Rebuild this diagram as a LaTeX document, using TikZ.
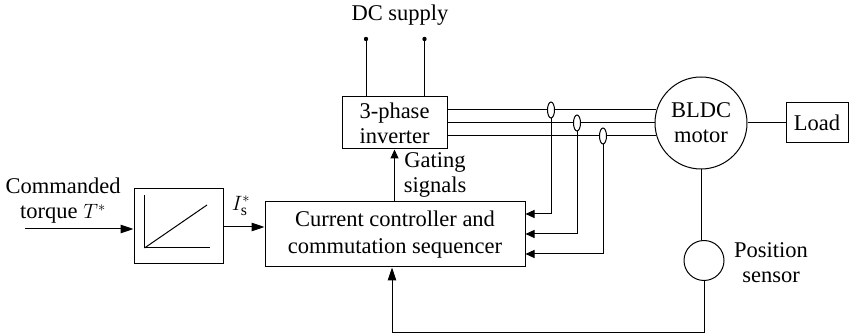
\documentclass[tikz,border=0pt]{standalone}
\usepackage{fontspec}
\setmainfont{Liberation Serif}
\usetikzlibrary{arrows.meta,positioning,shapes.geometric}

\begin{document}
\begin{tikzpicture}[
    x=1pt, y=-1pt, font=\fontsize{22.5}{25}\selectfont,
    bloco/.style={draw, line width=1pt, align=center, inner sep=0pt},
    sonda/.style={draw, ellipse, line width=1pt, fill=white, inner sep=0pt,
        minimum width=7pt, minimum height=16pt},
    rotulo/.style={align=center, inner sep=0pt},
    fio/.style={line width=1pt},
    fluxo/.style={-{Triangle[length=9pt,width=8pt]}, line width=1pt},
    entra/.style={-{Triangle[length=13pt,width=8.5pt]}, line width=1pt}
]
    \useasboundingbox (0,0) rectangle (849,336);

    \node[bloco, minimum width=105pt, minimum height=52pt] (inversor) at (394.5,123) {3-phase\\inverter};
    \node[bloco, minimum width=260pt, minimum height=65pt, font=\fontsize{22.5}{27}\selectfont] (controlador) at (395,234.5) {Current controller and\\commutation sequencer};
    \node[bloco, minimum width=89pt, minimum height=75pt] (ganho) at (178.5,226.5) {};
    \node[bloco, circle, minimum size=92pt] (motor) at (701,123) {BLDC\\motor};
    \node[bloco, minimum width=62pt, minimum height=40pt] (carga) at (817,123) {Load};
    \node[bloco, circle, minimum size=40pt] (posicao) at (704,260.5) {};

    \node[rotulo] (fonte) at (400,15) {DC supply};
    \node[rotulo] (comando) at (63,201) {Commanded\\torque $T^{*}$};
    \node[rotulo] (gating) at (435,175) {Gating\\signals};
    \node[rotulo] (corrente) at (241,206) {$I_{\mathrm{s}}^{*}$};
    \node[rotulo] (rotsensor) at (771,262.5) {Position\\sensor};

    % alimentacao
    \coordinate (dca) at (366,39);
    \coordinate (dcb) at (424.5,39);
    \fill (dca) circle (2.2pt);
    \fill (dcb) circle (2.2pt);
    \draw[fio] (dca) -- (dca |- inversor.north);
    \draw[fio] (dcb) -- (dcb |- inversor.north);

    % fases
    \coordinate (fasea) at (inversor.east |- 0,110);
    \coordinate (faseb) at (inversor.east);
    \coordinate (fasec) at (inversor.east |- 0,136);
    \draw[fio] (fasea) -- (fasea -| motor.164);
    \draw[fio] (faseb) -- (motor.west);
    \draw[fio] (fasec) -- (fasec -| motor.196);
    \node[sonda] (sa) at (551,110) {};
    \node[sonda] (sb) at (577,123) {};
    \node[sonda] (sc) at (603,136) {};
    \coordinate (ea) at (controlador.east |- 0,214);
    \coordinate (eb) at (controlador.east |- 0,234);
    \coordinate (ec) at (controlador.east |- 0,254);
    \draw[fluxo] (sa.south) |- (ea);
    \draw[fluxo] (sb.south) |- (eb);
    \draw[fluxo] (sc.south) |- (ec);

    \draw[fluxo] (controlador.north -| inversor.south) -- (inversor.south);
    \draw[fio] (motor.east) -- (carga.west);
    \draw[fio] (motor.south) -- (motor.south |- posicao.north);
    \coordinate (retorno) at (392,333);
    \draw[entra] (posicao.south) |- (retorno) -- (retorno |- controlador.south);

    % entrada
    \coordinate (entrada) at (25,229);
    \draw[entra] (entrada) -- (entrada -| ganho.west);
    \draw[entra] (ganho.east |- 0,227) -- (controlador.west |- 0,227);

    % curva
    \coordinate (eixoa) at (144.5,195.5);
    \coordinate (eixob) at (144.5,248);
    \coordinate (eixoc) at (210,248);
    \coordinate (eixod) at (207,205);
    \draw[fio] (eixoa) -- (eixob) -- (eixoc);
    \draw[fio] (eixob) -- (eixod);
\end{tikzpicture}
\end{document}
